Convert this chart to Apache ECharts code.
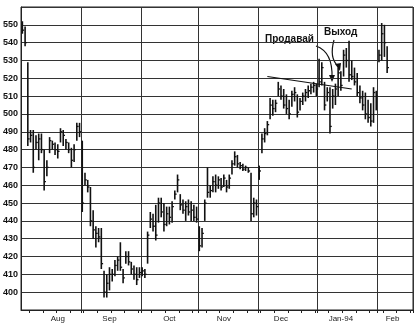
<!DOCTYPE html>
<html><head><meta charset="utf-8">
<script src="https://cdn.jsdelivr.net/npm/echarts@6/dist/echarts.min.js"></script>
<style>html,body{margin:0;padding:0;background:#fff}#c{width:416px;height:324px}</style>
</head><body><div id="c"></div>
<script>
// Daily bars (high, low, close)
const highs = [552,549,529,491,491,488,489,489,480,474,487,485,484,483,492,491,486,484,481,483,495,495,
  485,467,463,459,446,437,436,436,412,410,414,413,418,420,428,413,423,423,417,415,414,414,
  414,413,434,445,444,449,453,453,450,448,448,451,457,466,455,452,451,452,451,449,448,
  437,436,452,470,460,465,466,465,464,466,463,466,474,479,477,473,472,471,470,467,453,452,
  471,489,492,496,509,508,508,518,516,514,511,508,513,515,511,509,512,514,516,517,518,517,
  531,529,518,515,515,514,517,526,524,536,537,541,530,526,523,516,513,512,508,506,515,513,
  536,551,550,538];
const lows = [545,538,482,484,467,480,474,478,457,465,478,480,477,475,484,482,480,478,470,473,485,487,
  445,460,456,437,430,425,428,413,397,397,401,406,409,412,412,405,416,415,410,407,404,408,
  409,408,416,436,434,429,439,442,434,437,438,439,452,456,446,444,440,443,440,440,439,
  423,425,440,453,453,456,456,458,457,459,456,458,466,471,470,469,468,468,467,440,442,443,
  463,478,484,488,497,499,501,510,508,503,500,497,504,507,498,502,505,507,509,511,512,510,
  515,516,502,507,489,503,505,510,513,521,526,518,519,516,510,506,502,497,495,493,495,502,
  529,530,532,523];
const closes = [547,540,486,488,470,484,486,480,462,470,485,483,480,479,490,488,484,480,474,480,493,490,
  450,463,459,440,435,433,431,416,400,405,410,410,415,418,414,408,420,417,413,410,407,411,
  412,410,432,441,437,432,450,445,438,444,442,448,455,463,449,446,448,445,446,442,441,
  426,433,450,456,457,462,460,463,459,464,459,464,472,476,472,471,469,470,468,444,450,448,
  468,486,489,494,505,503,506,514,510,505,503,500,511,512,501,507,510,512,513,515,516,514,
  518,526,505,512,493,510,514,523,516,533,530,522,521,518,512,509,505,500,498,496,512,510,
  533,545,540,526];

const dayCount = 144;                       // trading-day slots on the axis
const monthNames = ['Aug','Sep','Oct','Nov','Dec','Jan-94','Feb'];
const monthStarts = [22,44,65,87,109,131];  // slots where a new month begins
const monthLabelSlots = [13,32,54,74,95,117,136];
const yTicks = [400,410,420,430,440,450,460,470,480,490,500,510,520,530,540,550];
const trendLine = [[90,521],[121,514]];

const days = [];
for (let i = 0; i < dayCount; i++) days.push('d' + i);
const bars = highs.map((h, i) => [i, h, lows[i], closes[i]]);

const chart = echarts.init(document.getElementById('c'), null, {renderer:'canvas'});
const FONT = 'Liberation Sans';

chart.setOption({
  animation: false,
  backgroundColor: '#fff',
  grid: {left: 18, right: 3, top: 7, bottom: 14, show: true, borderColor: '#222', borderWidth: 1},
  xAxis: {
    type: 'category', data: days, boundaryGap: true,
    axisLine: {lineStyle: {color: '#222', width: 1}},
    axisTick: {show: true, length: 3, lineStyle: {color: '#222'},
      interval: (i) => monthStarts.includes(i) || i % 5 === 3},
    splitLine: {show: true, lineStyle: {color: '#333', width: 1},
      interval: (i) => monthStarts.includes(i)},
    axisLabel: {
      interval: (i) => monthLabelSlots.includes(i),
      formatter: (v, i) => { const k = monthLabelSlots.indexOf(i); return k >= 0 ? monthNames[k] : ''; },
      fontFamily: FONT, fontSize: 8, color: '#222', margin: 5
    }
  },
  yAxis: {
    type: 'value', min: 390, max: 560, interval: 10,
    axisLine: {show: true, lineStyle: {color: '#222', width: 1}},
    axisTick: {show: false},
    splitLine: {show: true, lineStyle: {color: '#333', width: 1}},
    axisLabel: {
      showMinLabel: false, showMaxLabel: false,
      formatter: (v) => yTicks.includes(v) ? String(v) : '',
      fontFamily: FONT, fontSize: 9, fontWeight: 'bold', color: '#111', margin: 3
    }
  },
  series: [{
    type: 'custom',
    data: bars,
    encode: {x: 0, y: [1, 2]},
    renderItem: function (params, api) {
      const i = api.value(0);
      const top = api.coord([i, api.value(1)]);
      const bot = api.coord([i, api.value(2)]);
      const cl = api.coord([i, api.value(3)]);
      return {type: 'group', children: [
        {type: 'line', shape: {x1: top[0], y1: top[1], x2: bot[0], y2: bot[1]},
          style: {stroke: '#111', lineWidth: 1.6}},
        {type: 'line', shape: {x1: cl[0], y1: cl[1], x2: cl[0] + 1.8, y2: cl[1]},
          style: {stroke: '#111', lineWidth: 1.3}}
      ]};
    },
    markLine: {
      silent: true, symbol: ['none', 'none'],
      label: {show: false},
      lineStyle: {color: '#111', width: 1.2, type: 'solid'},
      data: [[{coord: trendLine[0]}, {coord: trendLine[1]}]]
    }
  }],
  graphic: [
    {type: 'text', left: 265, top: 34, style: {text: 'Продавай', font: 'bold 10px "Liberation Sans"', fill: '#111'}},
    {type: 'text', left: 324, top: 27, style: {text: 'Выход', font: 'bold 10px "Liberation Sans"', fill: '#111'}},
    {type: 'bezierCurve', shape: {x1: 316, y1: 46, x2: 332, y2: 78, cpx1: 333, cpy1: 52},
      style: {stroke: '#111', lineWidth: 1.2, fill: null}},
    {type: 'polygon', shape: {points: [[329, 75], [335, 75], [332, 82]]}, style: {fill: '#111'}},
    {type: 'bezierCurve', shape: {x1: 334, y1: 40, x2: 338, y2: 66, cpx1: 329, cpy1: 58},
      style: {stroke: '#111', lineWidth: 1.2, fill: null}},
    {type: 'polygon', shape: {points: [[335, 64], [341, 63], [340, 71]]}, style: {fill: '#111'}}
  ]
});
</script></body></html>
